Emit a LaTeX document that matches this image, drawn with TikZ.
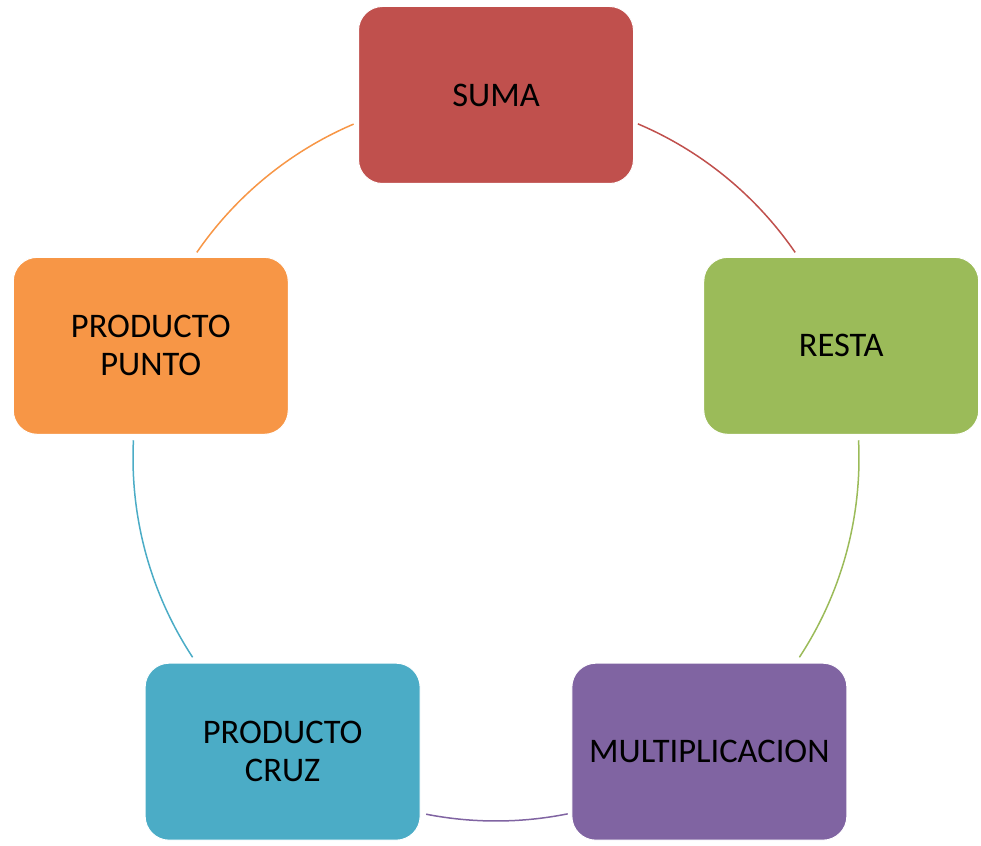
\documentclass[tikz,border=0pt]{standalone}
\usepackage{fontspec}
\setmainfont{Carlito}
\definecolor{rojo}{HTML}{C0504D}
\definecolor{verde}{HTML}{9BBB59}
\definecolor{morado}{HTML}{8064A2}
\definecolor{azul}{HTML}{4BACC6}
\definecolor{naranja}{HTML}{F79646}
\begin{document}
\begin{tikzpicture}[x=1pt, y=1pt,
    caja/.style={rectangle, rounded corners=24pt, draw=white, line width=1pt,
      minimum width=275pt, minimum height=177pt, align=center,
      font=\fontsize{34.5}{38}\selectfont, text=black},
    arco/.style={line width=1.5pt}]
        % marco
        \useasboundingbox (-496,-387) rectangle (485,458);

        % arcos del ciclo
        \foreach \col/\a/\b in {rojo/67/34.5, verde/2.8/-33.3, morado/-78.6/-101.1, azul/-146.7/-182.8, naranja/145.5/113.1}
            \draw[arco, \col] (\a:363) arc[start angle=\a, end angle=\b, radius=363];

        % cajas
        \foreach \nom/\ang/\col/\txt in {suma/90/rojo/SUMA, resta/18/verde/RESTA, mult/-54/morado/MULTIPLICACION, cruz/-126/azul/{PRODUCTO\\CRUZ}, punto/162/naranja/{PRODUCTO\\PUNTO}}
            \node[caja, fill=\col] (\nom) at (\ang:363) {\txt};

    \end{tikzpicture}
\end{document}
